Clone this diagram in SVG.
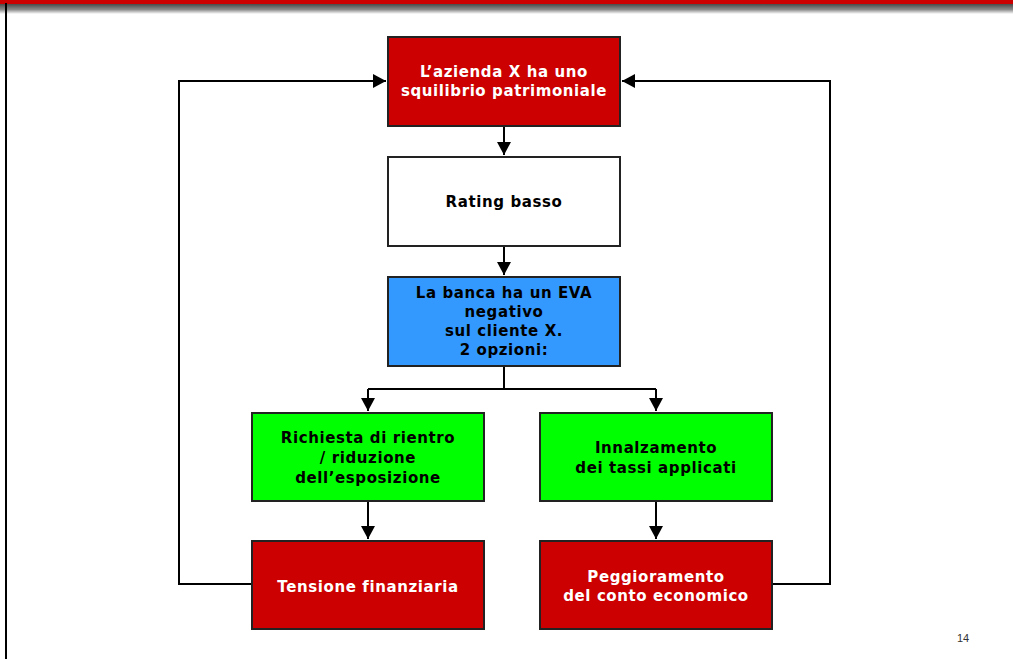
<svg xmlns="http://www.w3.org/2000/svg" width="1013" height="659" viewBox="0 0 1013 659">
<defs>
<linearGradient id="bar" x1="0" y1="0" x2="0" y2="1">
<stop offset="0" stop-color="#4a4a4a"/>
<stop offset="0.55" stop-color="#8a8a8a"/>
<stop offset="1" stop-color="#ffffff"/>
</linearGradient>
<marker id="ah" markerUnits="userSpaceOnUse" markerWidth="14" markerHeight="14" viewBox="0 0 14 14" refX="13" refY="7" orient="auto">
<path d="M0,0 L13,7 L0,14 Z" fill="#000"/>
</marker>
<style>
.box{stroke:#222;stroke-width:2}
.red{fill:#CC0000}
.blue{fill:#3399FF}
.green{fill:#00FF00}
.white{fill:#FFFFFF}
.t{font-family:"DejaVu Sans",Verdana,sans-serif;font-weight:bold;font-size:15px;letter-spacing:0.6px;text-anchor:middle}
.tw{fill:#fff}
.tb{fill:#000}
.c{fill:none;stroke:#000;stroke-width:2}
</style>
</defs>
<rect width="1013" height="659" fill="#fff"/>
<rect x="0" y="0" width="1013" height="4" fill="#CC0000"/>
<rect x="0" y="4" width="1013" height="10" fill="url(#bar)"/>
<rect x="5" y="3" width="2" height="656" fill="#000"/>
<g id="connectors">
<path class="c" d="M504,126 V155" marker-end="url(#ah)"/>
<path class="c" d="M504,246 V275" marker-end="url(#ah)"/>
<path class="c" d="M504,366 V389 M368,389 H656"/>
<path class="c" d="M368,389 V411" marker-end="url(#ah)"/>
<path class="c" d="M656,389 V411" marker-end="url(#ah)"/>
<path class="c" d="M368,501 V539" marker-end="url(#ah)"/>
<path class="c" d="M656,501 V539" marker-end="url(#ah)"/>
<path class="c" d="M252,584 H179 V81 H386" marker-end="url(#ah)"/>
<path class="c" d="M772,584 H830 V81 H622" marker-end="url(#ah)"/>
</g>
<g id="n1">
<rect class="box red" x="388" y="37" width="232" height="89"/>
<text class="t tw" x="504" y="77">L’azienda X ha uno</text>
<text class="t tw" x="504" y="96">squilibrio patrimoniale</text>
</g>
<g id="n2">
<rect class="box white" x="388" y="157" width="232" height="89"/>
<text class="t tb" x="504" y="207">Rating basso</text>
</g>
<g id="n3">
<rect class="box blue" x="388" y="277" width="232" height="89"/>
<text class="t tb" x="504" y="298">La banca ha un EVA</text>
<text class="t tb" x="504" y="317">negativo</text>
<text class="t tb" x="504" y="336">sul cliente X.</text>
<text class="t tb" x="504" y="355">2 opzioni:</text>
</g>
<g id="n4">
<rect class="box green" x="252" y="413" width="232" height="88"/>
<text class="t tb" x="368" y="443">Richiesta di rientro</text>
<text class="t tb" x="368" y="463">/ riduzione</text>
<text class="t tb" x="368" y="483">dell’esposizione</text>
</g>
<g id="n5">
<rect class="box green" x="540" y="413" width="232" height="88"/>
<text class="t tb" x="656" y="453">Innalzamento</text>
<text class="t tb" x="656" y="473">dei tassi applicati</text>
</g>
<g id="n6">
<rect class="box red" x="252" y="541" width="232" height="88"/>
<text class="t tw" x="368" y="592">Tensione finanziaria</text>
</g>
<g id="n7">
<rect class="box red" x="540" y="541" width="232" height="88"/>
<text class="t tw" x="656" y="582">Peggioramento</text>
<text class="t tw" x="656" y="601">del conto economico</text>
</g>
<text x="957" y="642" font-family="'Liberation Sans',Arial,sans-serif" font-size="11" fill="#333">14</text>
</svg>
